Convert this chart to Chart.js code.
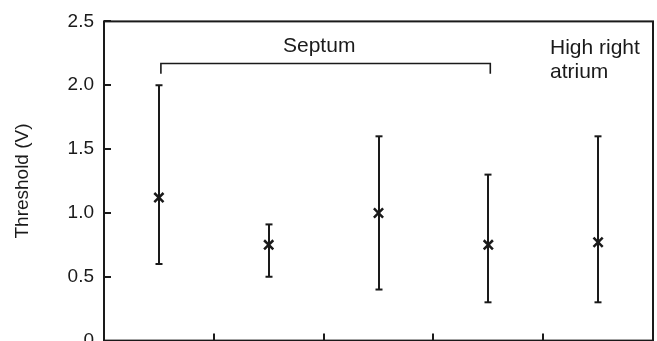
<!DOCTYPE html>
<html><head><meta charset="utf-8">
<script src="https://cdn.jsdelivr.net/npm/chart.js@4/dist/chart.umd.min.js"></script>
<style>html,body{margin:0;padding:0;background:#fff;overflow:hidden;}#wrap{width:657px;height:362px;}</style>
</head><body><div id="wrap"><canvas id="c" width="657" height="362"></canvas></div>
<script>
const categories = ['Septum 1', 'Septum 2', 'Septum 3', 'Septum 4', 'High right atrium'];
const meanValues = [1.12, 0.75, 1.0, 0.75, 0.77];
const lowValues = [0.6, 0.5, 0.4, 0.3, 0.3];
const highValues = [2.0, 0.91, 1.6, 1.3, 1.6];
const yTickLabels = ['0', '0.5', '1.0', '1.5', '2.0', '2.5'];
const bracketLevel = 2.17;
const bracketEndLevel = 2.09;
const septumLabel = 'Septum';
const hraLabel = ['High right', 'atrium'];

const FONT = '"Liberation Sans", Arial, Helvetica, sans-serif';
const INK = '#1a1a1a';

const overlay = {
  id: 'overlay',
  afterDatasetsDraw(chart) {
    const ctx = chart.ctx, a = chart.chartArea;
    const xs = chart.scales.x, ys = chart.scales.y;
    ctx.save();
    ctx.strokeStyle = INK;
    ctx.lineWidth = 2;
    ctx.lineCap = 'butt';
    // frame
    ctx.strokeRect(a.left, a.top, a.right - a.left, a.bottom - a.top);
    // y ticks inward
    ys.ticks.forEach(t => {
      const y = Math.round(ys.getPixelForValue(t.value));
      ctx.beginPath(); ctx.moveTo(a.left, y); ctx.lineTo(a.left + 7, y); ctx.stroke();
    });
    // x ticks inward at category boundaries
    for (let i = 0; i < categories.length - 1; i++) {
      const x = Math.round((xs.getPixelForValue(i) + xs.getPixelForValue(i + 1)) / 2);
      ctx.beginPath(); ctx.moveTo(x, a.bottom); ctx.lineTo(x, a.bottom - 7); ctx.stroke();
    }
    // error bars
    for (let i = 0; i < categories.length; i++) {
      const x = Math.round(xs.getPixelForValue(i));
      const yl = ys.getPixelForValue(lowValues[i]);
      const yh = ys.getPixelForValue(highValues[i]);
      ctx.beginPath(); ctx.moveTo(x, yl); ctx.lineTo(x, yh); ctx.stroke();
      ctx.beginPath(); ctx.moveTo(x - 3.5, yl); ctx.lineTo(x + 3.5, yl); ctx.stroke();
      ctx.beginPath(); ctx.moveTo(x - 3.5, yh); ctx.lineTo(x + 3.5, yh); ctx.stroke();
    }
    // bracket
    const bx0 = xs.getPixelForValue(0) + 2, bx1 = xs.getPixelForValue(3) + 2;
    const by = ys.getPixelForValue(bracketLevel), bye = ys.getPixelForValue(bracketEndLevel);
    ctx.lineWidth = 1.6;
    ctx.beginPath(); ctx.moveTo(bx0, bye); ctx.lineTo(bx0, by); ctx.lineTo(bx1, by); ctx.lineTo(bx1, bye); ctx.stroke();
    // texts
    ctx.fillStyle = INK;
    ctx.font = '21px ' + FONT;
    ctx.textAlign = 'left';
    ctx.textBaseline = 'alphabetic';
    ctx.fillText(septumLabel, 283, 52);
    ctx.fillText(hraLabel[0], 550, 54);
    ctx.fillText(hraLabel[1], 550, 78);
    ctx.restore();
  }
};

new Chart(document.getElementById('c'), {
  type: 'line',
  data: {
    labels: categories,
    datasets: [{
      data: meanValues,
      showLine: false,
      pointStyle: 'crossRot',
      pointRadius: 6.5,
      pointBorderWidth: 2.5,
      borderColor: INK,
      backgroundColor: INK
    }]
  },
  options: {
    responsive: false,
    animation: false,
    devicePixelRatio: 1,
    layout: { autoPadding: false, padding: { top: 20, right: 4, left: 11, bottom: 9 } },
    plugins: { legend: { display: false }, tooltip: { enabled: false } },
    scales: {
      x: {
        type: 'category',
        offset: true,
        grid: { display: false, drawTicks: false },
        border: { display: false },
        ticks: { display: false },
        afterFit(s) { s.height = 12; }
      },
      y: {
        min: 0, max: 2.5,
        grid: { display: false, drawTicks: false },
        border: { display: false },
        ticks: {
          stepSize: 0.5,
          color: INK,
          padding: 10,
          font: { family: FONT, size: 19 },
          callback: (v, i) => yTickLabels[i]
        },
        title: {
          display: true,
          text: 'Threshold (V)',
          color: INK,
          font: { family: FONT, size: 19 },
          padding: { top: 0, bottom: 0 }
        },
        afterFit(s) { s.width = 93; }
      }
    }
  },
  plugins: [overlay]
});
</script></body></html>
